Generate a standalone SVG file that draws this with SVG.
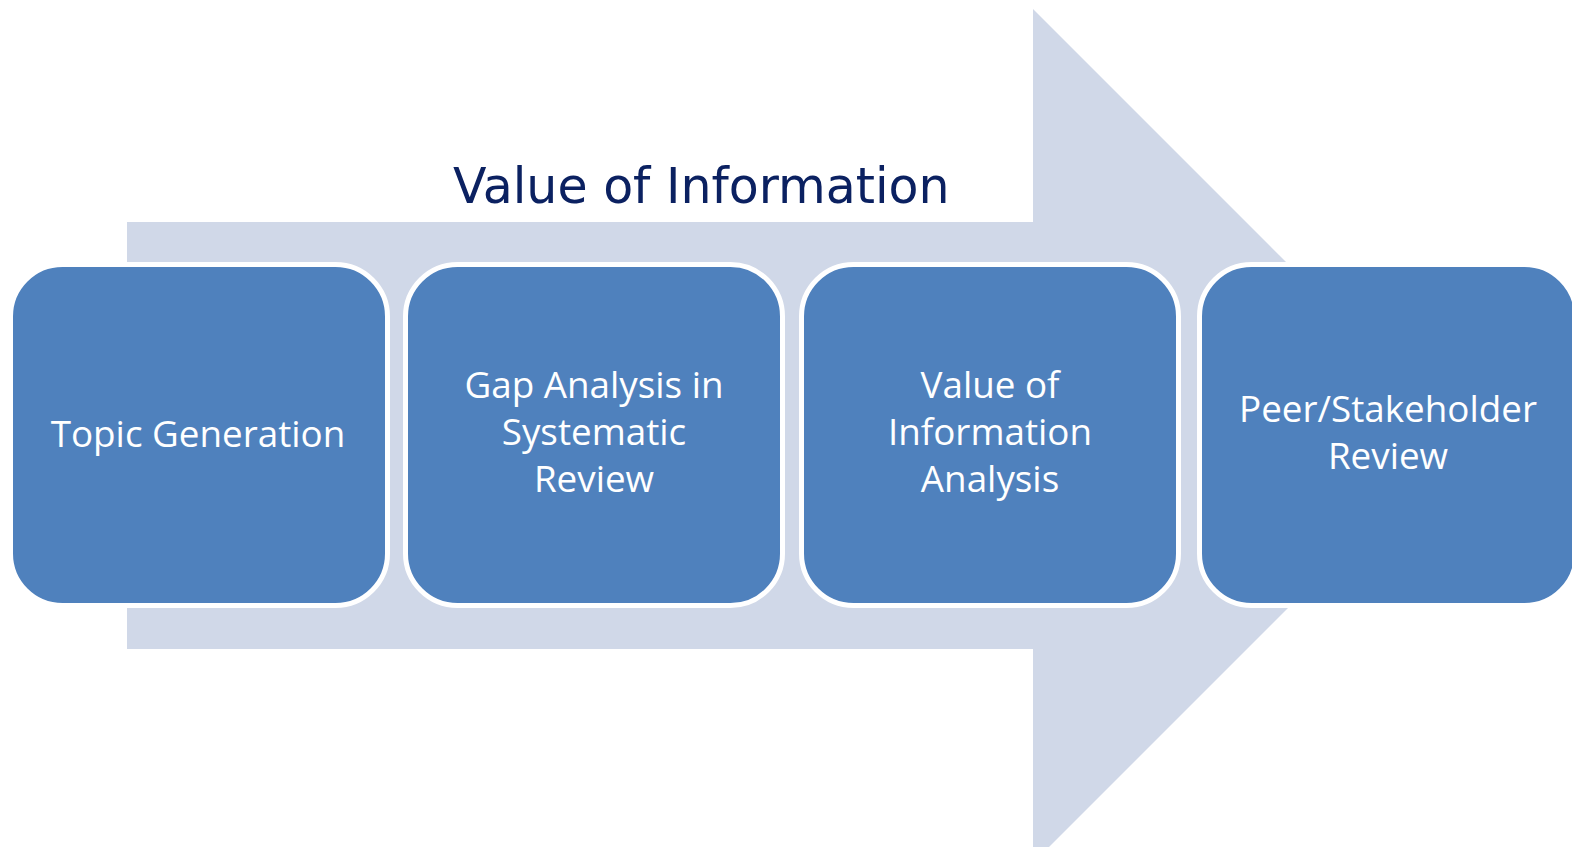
<svg xmlns="http://www.w3.org/2000/svg" width="1572" height="847" viewBox="0 0 1572 847">
<style>
.box{fill:#4f81bd;stroke:#ffffff;stroke-width:5}
.lbl{font-family:"Open Sans","Noto Sans",sans-serif;font-size:36.8px;fill:#ffffff;text-anchor:middle}
.title{font-family:"DejaVu Sans",Verdana,sans-serif;font-size:49px;fill:#0b2161}
</style>
<rect width="1572" height="847" fill="#ffffff"/>
<g id="arrow">
<polygon points="127,222 1033,222 1033,9 1460,436 1033,863 1033,649 127,649" fill="#d0d8e8"/>
</g>
<text class="title" x="453" y="203">Value of Information</text>
<g id="connectors"></g>
<g id="n1">
<rect class="box" x="10.5" y="264.5" width="377" height="341" rx="52"/>
<text class="lbl" x="198" y="447">Topic Generation</text>
</g>
<g id="n2">
<rect class="box" x="405.5" y="264.5" width="377" height="341" rx="52"/>
<text class="lbl" x="594" y="398">Gap Analysis in</text>
<text class="lbl" x="594" y="445">Systematic</text>
<text class="lbl" x="594" y="492">Review</text>
</g>
<g id="n3">
<rect class="box" x="801.5" y="264.5" width="377" height="341" rx="52"/>
<text class="lbl" x="990" y="398">Value of</text>
<text class="lbl" x="990" y="445">Information</text>
<text class="lbl" x="990" y="492">Analysis</text>
</g>
<g id="n4">
<rect class="box" x="1199.5" y="264.5" width="377" height="341" rx="52"/>
<text class="lbl" x="1388" y="422">Peer/Stakeholder</text>
<text class="lbl" x="1388" y="469">Review</text>
</g>
</svg>
